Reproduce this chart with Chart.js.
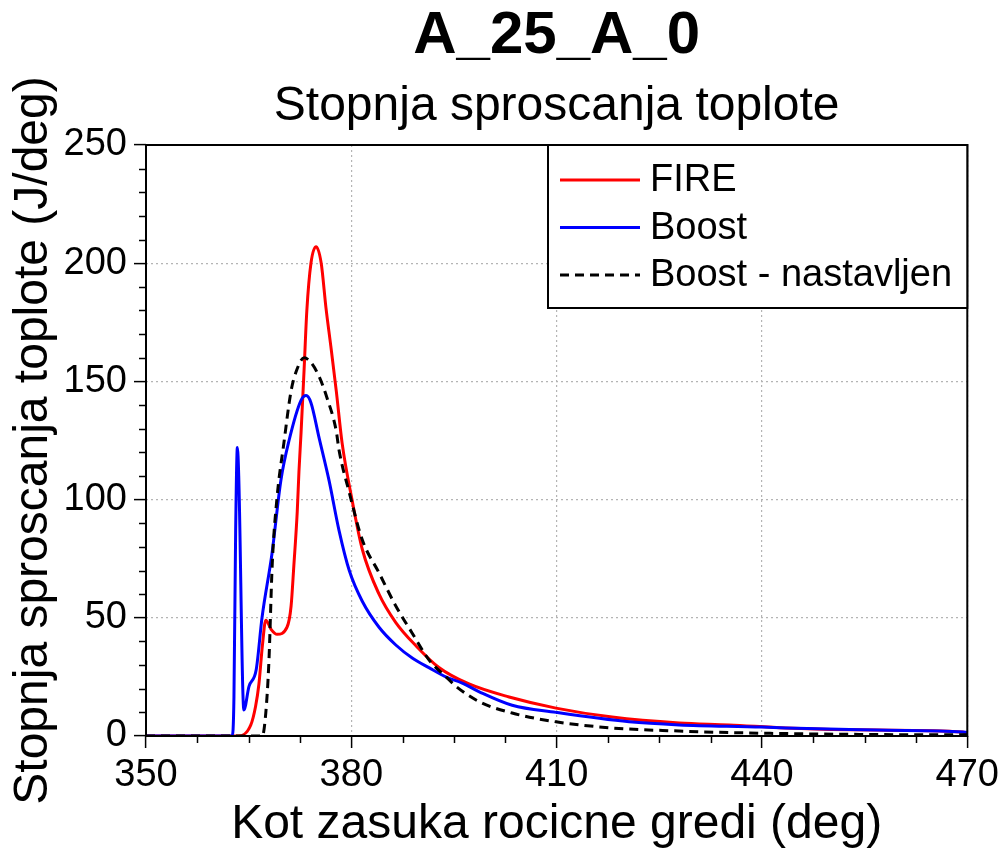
<!DOCTYPE html>
<html>
<head>
<meta charset="utf-8">
<title>A_25_A_0</title>
<script src="https://cdn.jsdelivr.net/npm/chart.js@4.4.1/dist/chart.umd.min.js"></script>
<style>
  html, body { margin: 0; padding: 0; background: #fff; }
  #wrap { width: 1004px; height: 850px; }
</style>
</head>
<body>
<div id="wrap"><canvas id="hrr" width="1004" height="850"></canvas></div>
<script>
// crank angle (deg) and heat release rate (J/deg) for each run
const fireAngle = [350, 363.5, 365.3, 366.0, 366.5, 367.0, 367.5, 368.3, 369.15, 370.6, 371.2, 371.6,
  372.1, 372.35, 372.65, 373.1, 373.5, 374.1, 374.85, 375.6, 376.3, 377.0, 377.8, 378.65, 380.1,
  381.6, 384.05, 386.5, 389.5, 392.8, 397.2, 403.05, 409.9, 418.1, 427.9, 435.2, 443.5, 456.7, 469.3, 470];
const fireRate = [0, 0, 4.6, 12.4, 22, 38, 49, 45, 43, 46, 55, 72,
  95, 112, 128, 155, 180, 200, 207, 200, 181, 165, 146, 124, 100,
  79, 60, 48, 38, 29, 22, 16.5, 11.8, 8, 5.5, 4.7, 3.4, 2.5, 1.7, 1];

const boostAngle = [350, 362.6, 362.85, 363.1, 363.35, 363.55, 364.3, 365.05, 366.1, 366.95, 368.4,
  369.7, 370.9, 372.65, 373.4, 374.1, 375.3, 376.75, 378.2, 379.7, 381.6, 384.05, 386.5, 388.9,
  391.4, 393.8, 396.2, 398.7, 403.5, 409.9, 420.6, 427.9, 440.0, 443.5, 456.7, 469.3, 470];
const boostRate = [0, 0, 16.5, 87, 122, 110, 11, 21, 28, 50, 77,
  108, 125, 142, 144, 141, 126, 108, 87, 70, 57, 46, 38.5, 33,
  28.8, 25, 22.4, 18.7, 13, 10, 6, 4.7, 3.8, 3.4, 2.5, 1.7, 1.5];

const tunedAngle = [350, 367.0, 367.5, 367.95, 368.45, 369.15, 370.15, 371.2, 372.05, 373.1,
  374.1, 375.3, 376.45, 377.8, 378.2, 379.7, 381.6, 384.05, 386.5, 388.9, 391.4, 393.85, 395.3,
  398.7, 403.5, 409.9, 418.1, 427.9, 437.7, 469.3, 470];
const tunedRate = [0, 0, 9.7, 31, 73, 101, 124, 146, 155, 160,
  158, 152, 143, 129, 121, 103, 83, 69, 55, 43.5, 32, 25, 21,
  14.5, 9.7, 6, 3.4, 2.1, 1.3, 0.5, 0.5];

const xTicks = [350, 380, 410, 440, 470];
const yTicks = [0, 50, 100, 150, 200, 250];

const FONT = "'Liberation Sans', Arial, Helvetica, sans-serif";

function points(xs, ys) {
  return xs.map((v, i) => ({x: v, y: ys[i]}));
}

// box around the plot, minor ticks and the legend inside the top right corner
const framePlugin = {
  id: 'frame',
  afterDraw(chart) {
    const {ctx, chartArea: a, scales: {x, y}} = chart;
    ctx.save();
    ctx.strokeStyle = '#000';
    ctx.lineWidth = 2;
    ctx.strokeRect(a.left, a.top, a.right - a.left, a.bottom - a.top);

    ctx.lineWidth = 1.5;
    ctx.beginPath();
    for (let v = x.min; v <= x.max; v += 7.5) {
      if ((v - 350) % 30 === 0) continue;
      const px = Math.round(x.getPixelForValue(v)) + 0.5;
      ctx.moveTo(px, a.bottom);
      ctx.lineTo(px, a.bottom + 7);
    }
    for (let v = y.min; v <= y.max; v += 10) {
      if (v % 50 === 0) continue;
      const py = Math.round(y.getPixelForValue(v)) + 0.5;
      ctx.moveTo(a.left, py);
      ctx.lineTo(a.left - 7, py);
    }
    ctx.stroke();

    // legend
    const box = {left: 548, top: a.top, right: a.right, bottom: 308};
    ctx.fillStyle = '#fff';
    ctx.fillRect(box.left, box.top, box.right - box.left, box.bottom - box.top);
    ctx.lineWidth = 2;
    ctx.strokeRect(box.left, box.top, box.right - box.left, box.bottom - box.top);
    ctx.font = '38px ' + FONT;
    ctx.textBaseline = 'middle';
    ctx.textAlign = 'left';
    chart.data.datasets.forEach((ds, i) => {
      const rowY = 180 + i * 47.5;
      ctx.beginPath();
      ctx.strokeStyle = ds.borderColor;
      ctx.lineWidth = 3;
      ctx.setLineDash(ds.borderDash || []);
      ctx.moveTo(560, rowY);
      ctx.lineTo(640, rowY);
      ctx.stroke();
      ctx.setLineDash([]);
      ctx.fillStyle = '#000';
      ctx.fillText(ds.label, 650, rowY + 1);
    });
    ctx.restore();
  }
};

const config = {
  type: 'line',
  data: {
    datasets: [
      {
        label: 'FIRE',
        data: points(fireAngle, fireRate),
        borderColor: '#ff0000',
        borderWidth: 3,
        order: 2,
      },
      {
        label: 'Boost',
        data: points(boostAngle, boostRate),
        borderColor: '#0000ff',
        borderWidth: 3,
        order: 1,
      },
      {
        label: 'Boost - nastavljen',
        data: points(tunedAngle, tunedRate),
        borderColor: '#000000',
        borderWidth: 3,
        borderDash: [9, 6],
        order: 0,
      },
    ]
  },
  options: {
    responsive: false,
    animation: false,
    devicePixelRatio: 1,
    elements: {
      point: { radius: 0 },
      line: { cubicInterpolationMode: 'monotone', fill: false },
    },
    layout: { padding: { top: 0, left: 0, right: 36, bottom: 0 } },
    plugins: {
      legend: { display: false },
      tooltip: { enabled: false },
      title: {
        display: true,
        fullSize: false,
        text: 'A_25_A_0',
        color: '#000',
        font: { family: FONT, size: 60, weight: 'bold', lineHeight: 1 },
        padding: { top: 6, bottom: 0 },
      },
      subtitle: {
        display: true,
        fullSize: false,
        text: 'Stopnja sproscanja toplote',
        color: '#000',
        font: { family: FONT, size: 48, weight: 'normal', lineHeight: 1 },
        padding: { top: 17, bottom: 14 },
      },
    },
    scales: {
      x: {
        type: 'linear',
        min: 350,
        max: 470,
        afterBuildTicks(scale) { scale.ticks = xTicks.map(v => ({value: v})); },
        afterFit(scale) { scale.height = 114; },
        ticks: {
          color: '#000',
          padding: 5,
          font: { family: FONT, size: 38 },
          maxRotation: 0,
        },
        grid: {
          color: '#b4b4b4',
          lineWidth: 1.2,
          tickLength: 12,
          tickColor: '#000',
          tickWidth: 1.5,
        },
        border: { display: false, dash: [2, 3] },
        title: {
          display: true,
          text: 'Kot zasuka rocicne gredi (deg)',
          color: '#000',
          font: { family: FONT, size: 48, lineHeight: 1 },
          padding: { top: 0, bottom: 1 },
        },
      },
      y: {
        type: 'linear',
        min: 0,
        max: 250,
        afterBuildTicks(scale) { scale.ticks = yTicks.map(v => ({value: v})); },
        afterFit(scale) { scale.width = 146; },
        ticks: {
          color: '#000',
          padding: 7,
          font: { family: FONT, size: 38 },
        },
        grid: {
          color: '#b4b4b4',
          lineWidth: 1.2,
          tickLength: 12,
          tickColor: '#000',
          tickWidth: 1.5,
        },
        border: { display: false, dash: [2, 3] },
        title: {
          display: true,
          text: 'Stopnja sproscanja toplote (J/deg)',
          color: '#000',
          font: { family: FONT, size: 48, lineHeight: 1 },
          padding: { top: 10, bottom: 0 },
        },
      },
    },
  },
  plugins: [framePlugin],
};

const chart = new Chart(document.getElementById('hrr'), config);
</script>
</body>
</html>
